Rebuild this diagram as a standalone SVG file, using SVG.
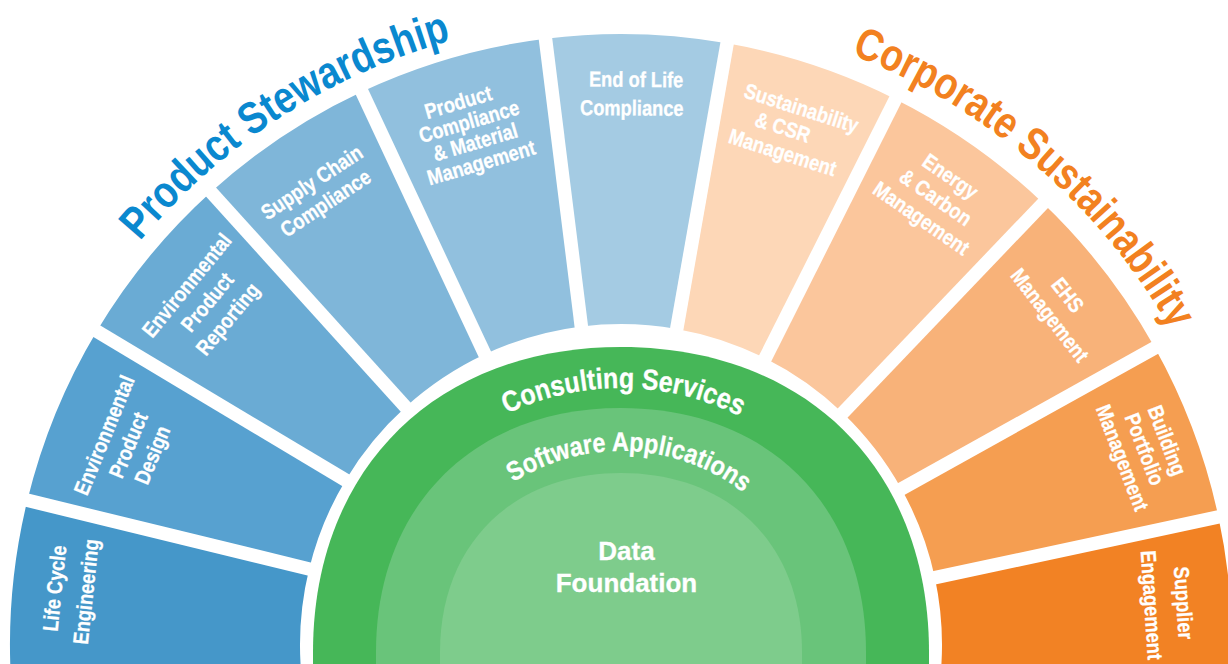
<svg xmlns="http://www.w3.org/2000/svg" width="1228" height="664" viewBox="0 0 1228 664">
<defs>
<style>
.lbl{font-family:"Liberation Sans",Arial,sans-serif;font-weight:bold;font-size:21.5px;fill:#ffffff;stroke:#ffffff;stroke-width:0.3;text-anchor:middle}
.ring{font-family:"Liberation Sans",Arial,sans-serif;font-weight:bold;fill:#ffffff;stroke:#ffffff;stroke-width:0.3}
.title{font-family:"Liberation Sans",Arial,sans-serif;font-weight:bold;font-size:45px}
.gap{stroke:#ffffff;stroke-width:13.5;fill:none}
</style>
<path id="pPS" d="M140.0,241.3 A628,628 0 0 1 451.1,40.4"/>
<path id="pCS" d="M851.3,54.3 A634,634 0 0 1 1171.7,330.9"/>
<path id="pCons" d="M506.9,413.9 A264,264 0 0 1 740.0,416.4"/>
<path id="pSoft" d="M513.3,482.3 A201,201 0 0 1 743.9,493.0"/>
</defs>
<rect width="1228" height="664" fill="#ffffff"/>

<g id="life-cycle-engineering">
<path fill="#4597C9" d="M13.35,708.87 A611,611 0 0 1 27.37,500.29 L309.13,568.97 A321,321 0 0 0 301.76,678.55 Z"/>
<g class="lbl" transform="translate(70,590) rotate(-84) scale(0.85,1)"><text y="-8.1">Life Cycle</text><text y="23.5">Engineering</text></g>
</g>
<g id="environmental-product-design">
<path fill="#57A1D0" d="M27.37,500.29 A611,611 0 0 1 96.74,331.20 L345.57,480.14 A321,321 0 0 0 309.13,568.97 Z"/>
<g class="lbl" transform="translate(128,445) rotate(-67.7) scale(0.85,1)"><text y="-18.3">Environmental</text><text y="7.7">Product</text><text y="33.7">Design</text></g>
</g>
<g id="environmental-product-reporting">
<path fill="#6AABD4" d="M96.74,331.20 A611,611 0 0 1 210.97,192.01 L405.58,407.01 A321,321 0 0 0 345.57,480.14 Z"/>
<g class="lbl" transform="translate(207,302) rotate(-50.6) scale(0.85,1)"><text y="-18.8">Environmental</text><text y="7.7">Product</text><text y="34.2">Reporting</text></g>
</g>
<g id="supply-chain-compliance">
<path fill="#7FB6D9" d="M210.97,192.01 A611,611 0 0 1 361.81,91.70 L484.83,354.31 A321,321 0 0 0 405.58,407.01 Z"/>
<g class="lbl" transform="translate(318.5,192.5) rotate(-33.6) scale(0.85,1)"><text y="-4.8">Supply Chain</text><text y="20.2">Compliance</text></g>
</g>
<g id="product-compliance">
<path fill="#91C0DE" d="M361.81,91.70 A611,611 0 0 1 545.48,38.68 L581.32,326.46 A321,321 0 0 0 484.83,354.31 Z"/>
<g class="lbl" transform="translate(472,131.5) rotate(-16.5) scale(0.85,1)"><text x="-5.9" y="-24.6">Product</text><text y="-3.1">Compliance</text><text y="18.4">&amp; Material</text><text y="39.9">Management</text></g>
</g>
<g id="end-of-life-compliance">
<path fill="#A4CBE3" d="M545.48,38.68 A611,611 0 0 1 727.10,43.28 L676.74,328.88 A321,321 0 0 0 581.32,326.46 Z"/>
<g class="lbl" transform="translate(634,93.5) rotate(0.5) scale(0.85,1)"><text x="2.4" y="-6.6">End of Life</text><text x="-2.4" y="21.9">Compliance</text></g>
</g>
<g id="sustainability-csr">
<path fill="#FDD7B7" d="M727.10,43.28 A611,611 0 0 1 895.53,99.14 L765.23,358.22 A321,321 0 0 0 676.74,328.88 Z"/>
<g class="lbl" transform="translate(789,129) rotate(17.7) scale(0.85,1)"><text x="6.5" y="-16.3">Sustainability</text><text x="-7.6" y="7.7">&amp; CSR</text><text x="1.2" y="31.7">Management</text></g>
</g>
<g id="energy-carbon">
<path fill="#FBC69C" d="M895.53,99.14 A611,611 0 0 1 1043.13,203.26 L842.78,412.92 A321,321 0 0 0 765.23,358.22 Z"/>
<g class="lbl" transform="translate(936,197) rotate(34.8) scale(0.85,1)"><text y="-17.8">Energy</text><text y="7.7">&amp; Carbon</text><text y="33.2">Management</text></g>
</g>
<g id="ehs-management">
<path fill="#F8B279" d="M1043.13,203.26 A611,611 0 0 1 1154.87,347.85 L901.48,488.88 A321,321 0 0 0 842.78,412.92 Z"/>
<g class="lbl" transform="translate(1059,305) rotate(51.9) scale(0.85,1)"><text x="-2.8" y="-5.6">EHS</text><text x="2.8" y="20.9">Management</text></g>
</g>
<g id="building-portfolio">
<path fill="#F59E51" d="M1154.87,347.85 A611,611 0 0 1 1218.43,516.92 L934.87,577.71 A321,321 0 0 0 901.48,488.88 Z"/>
<g class="lbl" transform="translate(1145,449) rotate(69) scale(0.85,1)"><text y="-16.3">Building</text><text y="7.7">Portfolio</text><text y="31.7">Management</text></g>
</g>
<g id="supplier-engagement">
<path fill="#F28224" d="M1218.43,516.92 A611,611 0 0 1 1228.65,708.87 L940.24,678.55 A321,321 0 0 0 934.87,577.71 Z"/>
<g class="lbl" transform="translate(1168,604) rotate(86.2) scale(0.85,1)"><text y="-8.3">Supplier</text><text y="23.7">Engagement</text></g>
</g>

<g id="separators" class="gap">
<line x1="310.10" y1="569.21" x2="-0.80" y2="493.42"/>
<line x1="346.43" y1="480.65" x2="71.85" y2="316.30"/>
<line x1="406.25" y1="407.76" x2="191.51" y2="170.51"/>
<line x1="485.26" y1="355.22" x2="349.51" y2="65.44"/>
<line x1="581.45" y1="327.45" x2="541.90" y2="9.90"/>
<line x1="676.57" y1="329.86" x2="732.14" y2="14.72"/>
<line x1="764.78" y1="359.12" x2="908.56" y2="73.23"/>
<line x1="842.08" y1="413.65" x2="1063.17" y2="182.29"/>
<line x1="900.61" y1="489.37" x2="1180.21" y2="333.74"/>
<line x1="933.89" y1="577.92" x2="1246.77" y2="510.84"/>
</g>

<g id="consulting-services">
<path fill="#46B758" d="M313,700 L313,652 C313,469 436.2,347 621,347 C805.8,347 929,469 929,652 L929,700 Z"/>
<text class="ring" font-size="29"><textPath href="#pCons" textLength="241" lengthAdjust="spacingAndGlyphs">Consulting Services</textPath></text>
</g>
<g id="software-applications">
<path fill="#69C47A" d="M376,700 L376,652 C376,505.6 474,408 621,408 C768,408 866,505.6 866,652 L866,700 Z"/>
<text class="ring" font-size="27"><textPath href="#pSoft" textLength="245" lengthAdjust="spacingAndGlyphs">Software Applications</textPath></text>
</g>
<g id="data-foundation">
<path fill="#7ECC8C" d="M440,700 L440,652 C440,544.6 512.4,473 621,473 C729.6,473 802,544.6 802,652 L802,700 Z"/>
<text class="ring" font-size="26" text-anchor="middle"><tspan x="626.5" y="560">Data</tspan><tspan x="626.5" y="592">Foundation</tspan></text>
</g>

<g id="title-product-stewardship">
<text class="title" fill="#0A88CF"><textPath href="#pPS" textLength="376" lengthAdjust="spacingAndGlyphs">Product Stewardship</textPath></text>
</g>
<g id="title-corporate-sustainability">
<text class="title" fill="#F28120"><textPath href="#pCS" textLength="431" lengthAdjust="spacingAndGlyphs">Corporate Sustainability</textPath></text>
</g>
</svg>
